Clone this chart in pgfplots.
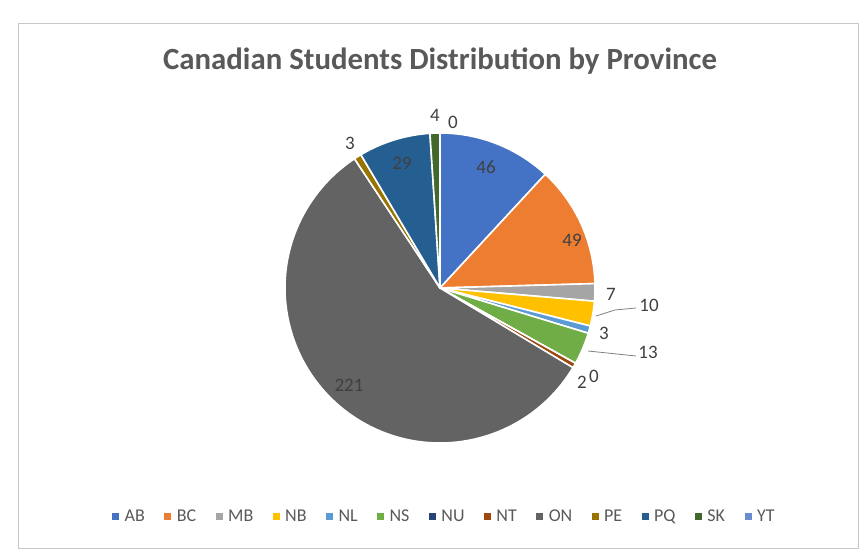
\documentclass[border=0pt]{standalone}
\usepackage{pgfplots}
\pgfplotsset{compat=1.18}
\usepackage{fontspec}
\setmainfont{Carlito}
\definecolor{cAB}{HTML}{4472C4}
\definecolor{cBC}{HTML}{ED7D31}
\definecolor{cMB}{HTML}{A5A5A5}
\definecolor{cNB}{HTML}{FFC000}
\definecolor{cNL}{HTML}{5B9BD5}
\definecolor{cNS}{HTML}{70AD47}
\definecolor{cNU}{HTML}{264478}
\definecolor{cNT}{HTML}{9E480E}
\definecolor{cON}{HTML}{636363}
\definecolor{cPE}{HTML}{997300}
\definecolor{cPQ}{HTML}{255E91}
\definecolor{cSK}{HTML}{43682B}
\definecolor{cYT}{HTML}{698ED0}
\definecolor{ttl}{HTML}{595959}
\definecolor{lbl}{HTML}{404040}
\begin{document}
\begin{tikzpicture}
\begin{axis}[
  x=1pt, y=1pt, xmin=0, xmax=863, ymin=0, ymax=557,
  scale only axis, axis lines=none, clip=false,
  legend columns=13,
  legend style={draw=none, fill=none, at={(0.515,0.0736)}, anchor=center,
    font=\fontsize{18}{21}\selectfont\color{ttl},
    /tikz/every odd column/.append style={column sep=4pt},
    /tikz/every even column/.append style={column sep=17.5pt}},
  legend image code/.code={\fill[#1] (0pt,-3pt) rectangle (6pt,3pt);},
]
\path (axis cs:0,0) rectangle (axis cs:863,557);
% frame
\draw[gray!45, line width=1pt] (axis cs:18,8) rectangle (axis cs:858,533);
\node[font=\fontsize{30.8}{35}\selectfont\bfseries, text=ttl] at (axis cs:440,496) {Canadian Students Distribution by Province};
% pie slices (values, total 387)
\gdef\cum{0}
\foreach \n/\v in {AB/46,BC/49,MB/7,NB/10,NL/3,NS/13,NU/0,NT/2,ON/221,PE/3,PQ/29,SK/4,YT/0}{
  \pgfmathsetmacro\a{90-\cum/387*360}
  \pgfmathsetmacro\b{90-(\cum+\v)/387*360}
  \edef\tmp{\noexpand\fill[c\n, draw=white, line width=1.6pt, line join=round] (axis cs:440,269) -- +(\a:155pt) arc[start angle=\a, end angle=\b, radius=155pt] -- cycle;}
  \tmp
  \pgfmathsetmacro\cumnew{\cum+\v}
  \xdef\cum{\cumnew}
}
% legend entries
\foreach \n in {AB,BC,MB,NB,NL,NS,NU,NT,ON,PE,PQ,SK,YT}{
  \edef\tmp{\noexpand\addlegendimage{c\n}\noexpand\addlegendentry{\n}}
  \tmp
}
% data labels
\begin{scope}[every node/.style={font=\fontsize{19}{22}\selectfont, text=lbl}]
\node at (axis cs:486,390) {46};
\node at (axis cs:572,317) {49};
\node at (axis cs:611,263) {7};
\node at (axis cs:649,252) {10};
\node at (axis cs:604,224) {3};
\node at (axis cs:648,205) {13};
\node at (axis cs:582,175) {2};
\node at (axis cs:594,181) {0};
\node at (axis cs:349,172) {221};
\node at (axis cs:350,414) {3};
\node at (axis cs:402,394) {29};
\node at (axis cs:435,442) {4};
\node at (axis cs:453,435) {0};
\end{scope}
\draw[gray, line width=0.8pt] (axis cs:596,241) -- (axis cs:615,247) -- (axis cs:636,249);
\draw[gray, line width=0.8pt] (axis cs:588,206) -- (axis cs:636,201);
\end{axis}
\end{tikzpicture}
\end{document}
